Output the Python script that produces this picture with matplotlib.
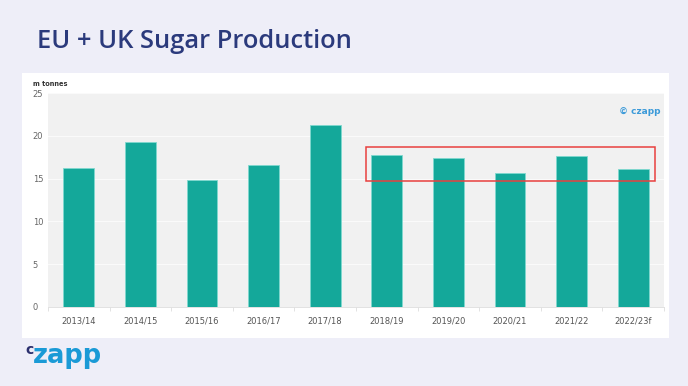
import matplotlib
matplotlib.use("Agg")
import matplotlib.pyplot as plt
from matplotlib.patches import Rectangle

categories = ["2013/14", "2014/15", "2015/16", "2016/17", "2017/18",
              "2018/19", "2019/20", "2020/21", "2021/22", "2022/23f"]
production = [16.2, 19.3, 14.8, 16.6, 21.3, 17.7, 17.4, 15.6, 17.6, 16.1]
yticks = [0, 5, 10, 15, 20, 25]

W, H = 688, 386
fig = plt.figure(figsize=(W / 100, H / 100), dpi=100)
fig.patch.set_facecolor("#eeeef8")

# white panel
bg = fig.add_axes([22 / W, 1 - 338 / H, (669 - 22) / W, (338 - 73) / H])
bg.set_facecolor("white")
bg.set_xticks([]); bg.set_yticks([])
for s in bg.spines.values():
    s.set_visible(False)
bg.set_zorder(0)

ax = fig.add_axes([48 / W, 1 - 307 / H, (664 - 48) / W, (307 - 93) / H])
ax.set_zorder(1)
ax.set_facecolor("#f1f1f1")
x = range(len(categories))
ax.bar(x, production, width=0.5, color="#14a89a", edgecolor="#7fd9cf",
       linewidth=0.6, zorder=3)
ax.set_xlim(-0.5, len(categories) - 0.5)
ax.set_ylim(0, 25)
ax.set_yticks(yticks)
ax.set_yticklabels([str(v) for v in yticks], fontsize=6, color="#666666")
ax.set_xticks(list(x))
ax.set_xticklabels(categories, fontsize=6, color="#555555")
ax.tick_params(axis="y", length=0, pad=11)
ax.tick_params(axis="x", length=0, pad=7)
ax.set_xticks([i + 0.5 for i in range(-1, len(categories))], minor=True)
ax.tick_params(axis="x", which="minor", length=3, color="#dddddd", width=0.6)
ax.grid(axis="y", color="#fafafa", linewidth=0.8, zorder=1)
for s in ["top", "right", "left"]:
    ax.spines[s].set_visible(False)
ax.spines["bottom"].set_color("#dddddd")
ax.spines["bottom"].set_linewidth(0.6)
for lbl in ax.get_yticklabels():
    lbl.set_horizontalalignment("left")

# red highlight box
ax.add_patch(Rectangle((4.66, 14.72), 9.36 - 4.66, 18.66 - 14.72,
                       facecolor="none", edgecolor="#e8403f", linewidth=1.1,
                       zorder=5))

ax.text(0.995, 0.915, "© czapp", transform=ax.transAxes, ha="right",
        va="center", fontsize=6.5, color="#3b9ad9", fontweight="semibold")

fig.text(33 / W, 1 - 84 / H, "m tonnes", fontsize=4.8, fontweight="bold",
         color="#333333", va="center", ha="left")

fig.text(37 / W, 1 - 41 / H, "EU + UK Sugar Production", fontsize=18.4,
         fontfamily="Open Sans", fontweight="semibold", color="#2b3a7c",
         va="center", ha="left")

# logo
fig.text(25 / W, 1 - 350 / H, "c", fontsize=10, fontweight="bold",
         color="#2b2f6e", va="center", ha="left", fontfamily="DejaVu Sans")
fig.text(33 / W, 1 - 356 / H, "zapp", fontsize=18.5, fontweight="bold",
         color="#1a9ad6", va="center", ha="left", fontfamily="DejaVu Sans")

fig.savefig("out.png", dpi=100, facecolor=fig.get_facecolor())
